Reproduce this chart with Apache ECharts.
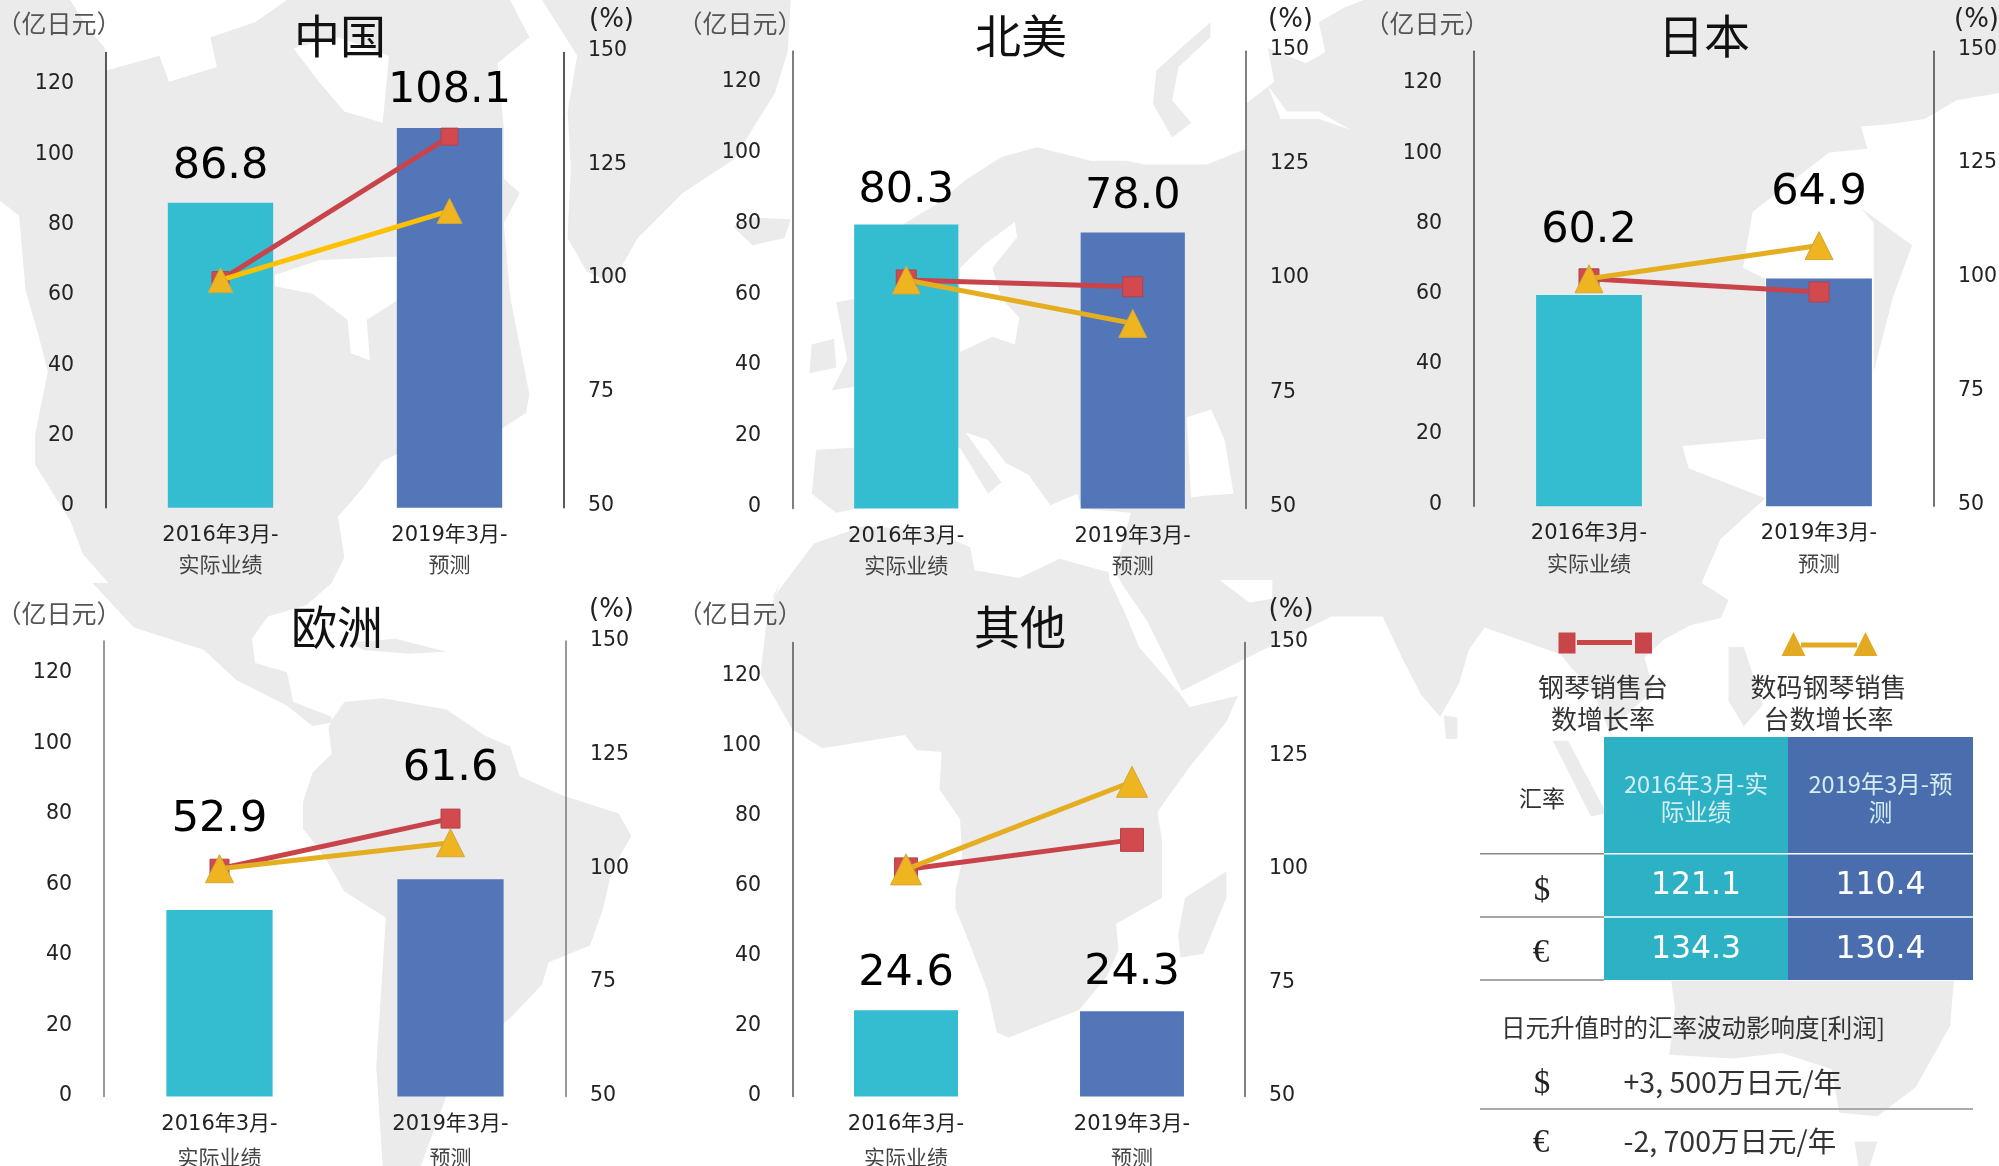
<!DOCTYPE html>
<html><head><meta charset="utf-8">
<style>html,body{margin:0;padding:0;background:#fff}#c{width:1999px;height:1166px}</style>
<script src="https://cdn.jsdelivr.net/npm/echarts@6/dist/echarts.min.js"></script>
</head><body><div id="c"></div>
<script>
// ---------- data ----------
const regionNames = ['中国','北美','日本','欧洲','其他'];
const periods = ['2016年3月-\n实际业绩','2019年3月-\n预测'];
const sales2016 = [86.8,80.3,60.2,52.9,24.6];
const sales2019 = [108.1,78.0,64.9,61.6,24.3];
const pianoRate2016 = [100,100,100,100,100];
const pianoRate2019 = [131.5,98.5,97.1,111,106.5];
const digitalRate2016 = [100,100,100,100,100];
const digitalRate2019 = [115.2,90.5,107.3,105.7,119.3];
const legendNames = ['钢琴销售台\n数增长率','数码钢琴销售\n台数增长率'];
const fxHeader = ['2016年3月-实\n际业绩','2019年3月-预\n测'];
const fxUSD = ['121.1','110.4'];
const fxEUR = ['134.3','130.4'];
const fxImpactTitle = '日元升值时的汇率波动影响度[利润]';
const fxImpact = ['+3, 500万日元/年','-2, 700万日元/年'];

// ---------- layout (px) ----------
const panels = [
 {l:106, r:564, t:52.4,b:507.8,max:129.6,d:[14,16],sq:17,tri:25,axis:'#222',lh:29,mg:13,tl:4,unit:[59,23],title:[340,36],pct:[589,20],yellow:'#FFC000'},
 {l:793, r:1246,t:51.3,b:508.6,max:129.2,d:[12,14],sq:20,tri:28,axis:'#555',lh:29,mg:13,tl:4,unit:[740,23],title:[1021,36],pct:[1268,20],yellow:'#E5AE20'},
 {l:1474,r:1934,t:51.3,b:506.3,max:129.6,d:[43,64],sq:20,tri:28,axis:'#444',lh:29,mg:13,tl:4,unit:[1427,23],title:[1704,36],pct:[1954,20],yellow:'#E5AE20'},
 {l:104, r:566, t:641, b:1096.4,max:129.2,d:[69,89],sq:19,tri:28,axis:'#777',lh:32.5,mg:12,tl:1,unit:[59,613.6],title:[337,626.7],pct:[589,610.5],yellow:'#E5AE20'},
 {l:793, r:1245,t:642.4,b:1096.4,max:129.5,d:[15,17],sq:23,tri:31,axis:'#555',lh:32.5,mg:12,tl:1,unit:[740,613.6],title:[1020,626.7],pct:[1268.6,610.5],yellow:'#E5AE20'}
];
const FONT_NUM = '"DejaVu Sans"';
const FONT_CJK = '"Noto Sans CJK SC"';
const MIX = '"DejaVu Sans","Noto Sans CJK SC"';

// ---------- background world map (decorative silhouette) ----------
const mk = (ox,oy,sx,sy)=>(a)=>{const o=[];for(let i=0;i<a.length;i+=2)o.push([ox+a[i]/sx,oy+a[i+1]/sy]);return o;};
const C7=mk(0,0,1.568,2.69),C9=mk(0,583,1.568,2.69),C8=mk(1000,0,1.568,2.69),C10=mk(1000,583,1.568,2.69),
      C3=mk(680,0,2.24,2.613),C6=mk(680,580,2.178,2.676),C2=mk(1400,600,2.618,2.77);
const land = [
 // North + Central America
 [...C7([0,0,110,0,140,80,165,130,165,190,250,150,265,220,340,180,330,100,400,60,450,0,800,0,830,100,780,170,790,345,790,480,815,520,790,600,800,800,830,1060,825,1110,790,1150,650,1200,600,1240,570,1310,530,1390,540,1500,520,1568]),
  ...C9([500,30,480,60,420,90,395,150,400,215,450,240,460,320,520,360,520,375,490,385,450,330,370,260,320,180,210,120,145,0]),
  ...C7([170,1568,130,1490,110,1400,55,1250,55,1170,75,1000,60,900,40,780,30,580,0,540])],
 // Greenland, Iceland
 C7([850,0,1240,0,1235,140,1215,250,1150,430,1070,520,1000,640,960,760,920,730,890,640,895,450,890,300,905,150]),
 C7([1150,610,1180,585,1240,590,1230,640,1180,660]),
 // Caribbean
 C9([550,160,620,150,700,185,640,190,570,180]),
 // South America
 C9([520,370,540,320,600,310,700,340,760,410,800,440,815,520,880,570,970,620,990,680,960,770,945,880,925,975,860,1020,850,1080,800,1170,770,1210,700,1380,660,1568,600,1568,590,1300,605,900,540,830,510,740,475,660,475,590,490,510,520,460,515,390]),
 // Ireland, Great Britain
 C3([295,900,345,885,350,960,290,975]), C3([350,790,395,780,395,1010,340,1020,375,940]),
 // Novaya Zemlya
 C8([330,60,290,120,245,190,240,280,270,370,300,330,270,270,280,180,330,100]),
 // Eurasia
 [...C3([295,1290,305,1175,390,1170,390,1060,400,1040,500,586,580,530,640,470,720,410,800,385,920,420,1000,420,1040,430,1180,430]),
  ...C8([386,400,385,280,430,220,420,130,480,170,510,140,500,60,540,20,570,0,1568,0,1568,250,1500,270,1450,320,1390,335,1350,340,1360,400,1300,410,1180,570,1165,720,1200,750,1200,1180,1070,1200,1080,1260,1140,1300,1200,1340,1130,1450,1100,1568]),
  ...C2([860,0,840,50,760,70,690,110,640,160,665,250,600,310,550,370,520,290,490,230,450,190,420,150]),
  ...C10([760,120,735,180,720,270,690,360,660,300,630,200,600,90,520,90,400,190,285,290,230,100,190,0]),
  ...C3([975,1490,1010,1340,900,1329,890,1290,830,1320,780,1240,730,1210,690,1150,640,1130,720,1260,690,1290,627,1170,560,1160,470,1250,430,1320,350,1340])],
 // Japan arc, Sri Lanka, Sumatra, Philippines
 C8([1350,560,1430,660,1400,800,1370,1000,1370,600]),
 C2([115,320,150,325,150,385,120,385]),
 C2([400,390,440,390,540,590,500,600]),
 C2([860,130,900,130,950,290,900,350,860,280]),
 // Africa, Madagascar
 [...C3([205,1568,300,1420,410,1375,560,1385,650,1430,660,1490,760,1510,850,1460,960,1495]),
  ...C6([935,0,970,90,1000,180,1085,300,1110,340,1215,310,1190,380,1110,500,1040,620,1050,700,1050,850,950,920,955,990,930,1060,870,1150,715,1225,690,1210,670,1100,630,970,600,880,600,830,615,750,610,640,565,560,570,460,515,455,490,415,310,450,245,400,175,250,190,100,220,0])],
 C6([1190,780,1190,850,1140,1000,1090,1010,1085,950,1100,850]),
 // Australia, Tasmania
 C2([710,1055,720,1130,705,1260,870,1270,1000,1255,1130,1300,1150,1420,1250,1430,1350,1350,1440,1180,1450,1055]),
 C2([1190,1500,1250,1500,1230,1568,1200,1568])
];
const water = [
 C7([431,740,500,700,622,690,622,810,575,860,580,970,550,950,545,860,490,790,431,770]), // Hudson Bay
 C7([460,130,530,100,610,150,600,330,540,300,500,220]),
 C3([627,920,627,700,680,640,750,580,755,620,700,700,720,780,760,830,750,900,700,880]), // Baltic
 C3([1145,1300,1135,1090,1190,1070,1220,1150,1240,1290,1180,1295]), // Caspian
 C6([1175,0,1290,0,1290,50,1240,60]), // Gulf
 C8([420,230,450,300,500,300,550,350,500,320,440,320]) // Ob
];

// ---------- graphic helpers ----------
const g = [];
land.forEach(p=>g.push({type:'polygon',z:-5,silent:true,shape:{points:p},style:{fill:'#EBEBEB'}}));
water.forEach(p=>g.push({type:'polygon',z:-4,silent:true,shape:{points:p},style:{fill:'#fff'}}));
const txt=(x,y,text,size,family,color,align)=>g.push({type:'text',z:20,silent:true,x,y,style:{text,fontSize:size,fontFamily:family,fill:color||'#222',align:align||'center',verticalAlign:'middle',lineHeight:size*1.25}});
const rect=(x,y,w,h,fill)=>g.push({type:'rect',z:10,silent:true,shape:{x,y,width:w,height:h},style:{fill}});
const hline=(x1,x2,y,color,w)=>g.push({type:'line',z:11,silent:true,shape:{x1,y1:y,x2,y2:y},style:{stroke:color,lineWidth:w}});

// panel texts
panels.forEach((p,i)=>{
 txt(p.unit[0],p.unit[1],'（亿日元）',25,FONT_CJK,'#555');
 txt(p.title[0],p.title[1],regionNames[i],46,FONT_CJK,'#111');
 txt(p.pct[0],p.pct[1],'(%)',26,FONT_NUM,'#222','left');
});

// legend
const RED='#C84549',GOLD='#E2AA22';
[1558.5,1635].forEach(x=>rect(x,632.5,17,21,RED));
rect(1577,640,55,5,RED);
[[1793.5],[1865.5]].forEach(([x])=>g.push({type:'polygon',z:10,silent:true,shape:{points:[[x,632],[x+12,656],[x-12,656]]},style:{fill:GOLD}}));
rect(1801,642.5,56,5,GOLD);
g.push({type:'text',z:20,silent:true,x:1603,y:703.5,style:{text:legendNames[0],fontSize:26,fontFamily:FONT_CJK,fill:'#333',align:'center',verticalAlign:'middle',lineHeight:32}});
g.push({type:'text',z:20,silent:true,x:1828.6,y:703.5,style:{text:legendNames[1],fontSize:26,fontFamily:FONT_CJK,fill:'#333',align:'center',verticalAlign:'middle',lineHeight:32}});

// fx table
const TEAL='#2DB1C5',BLUE='#4A6EAD';
rect(1604,737,184,243,TEAL); rect(1788,737,185,243,BLUE);
[853.8,917,980].forEach(y=>hline(1480,1604,y,'#888',1.5));
[853.8,917].forEach(y=>hline(1604,1973,y,'#fff',1.5));
const HC=[1696,1880.5];
fxHeader.forEach((t,i)=>g.push({type:'text',z:20,silent:true,x:HC[i],y:798,style:{text:t,fontSize:23.5,fontFamily:FONT_CJK,fill:'#D6EEF2',align:'center',verticalAlign:'middle',lineHeight:28}}));
txt(1542,798,'汇率',23,FONT_CJK,'#333');
txt(1542,891,'$',33,'"Liberation Serif"','#222');
txt(1541,953,'€',33,'"Liberation Serif"','#222');
fxUSD.forEach((t,i)=>txt(HC[i],885.5,t,31.5,FONT_NUM,'#fff'));
fxEUR.forEach((t,i)=>txt(HC[i],949.5,t,31.5,FONT_NUM,'#fff'));
txt(1501,1028,fxImpactTitle,24.5,FONT_CJK,'#333','left');
txt(1542,1084,'$',33,'"Liberation Serif"','#222');
txt(1623.5,1082,fxImpact[0],28.5,FONT_CJK,'#333','left');
hline(1480,1973,1109,'#AAA',2);
txt(1541,1143,'€',33,'"Liberation Serif"','#222');
txt(1623.5,1141,fxImpact[1],28.5,FONT_CJK,'#333','left');

// ---------- chart ----------
const grid=[],xAxis=[],yAxis=[],series=[];
panels.forEach((p,i)=>{
 grid.push({left:p.l,top:p.t,width:p.r-p.l,height:p.b-p.t,containLabel:false,outerBoundsMode:'none'});
 xAxis.push({type:'category',gridIndex:i,data:periods,axisLine:{show:false},axisTick:{show:false},
  axisLabel:{margin:p.mg,interval:0,formatter:v=>{const s=v.split('\n');return '{a|'+s[0]+'}\n{b|'+s[1]+'}';},
   rich:{a:{fontSize:21,fontFamily:MIX,color:'#222',lineHeight:p.lh},b:{fontSize:21,fontFamily:FONT_CJK,color:'#444',lineHeight:p.lh}}}});
 const ax={axisTick:{show:false},splitLine:{show:false},axisLine:{show:true,onZero:false,lineStyle:{color:p.axis,width:1.5}}};
 yAxis.push({...ax,type:'value',gridIndex:i,position:'left',min:0,max:p.max,interval:20,
  axisLabel:{showMaxLabel:false,margin:32,fontSize:20.5,fontFamily:FONT_NUM,color:'#222',verticalAlign:'bottom',lineHeight:p.tl}});
 yAxis.push({...ax,type:'value',gridIndex:i,position:'right',min:50,max:150,interval:25,
  axisLabel:{margin:24,fontSize:20.5,fontFamily:FONT_NUM,color:'#222',verticalAlign:'bottom',lineHeight:p.tl}});
 series.push({type:'bar',name:regionNames[i],xAxisIndex:i,yAxisIndex:i*2,barWidth:'46%',z:2,
  data:[
   {value:sales2016[i],itemStyle:{color:'#34BDD1'},label:{distance:p.d[0]}},
   {value:sales2019[i],itemStyle:{color:'#5276B8'},label:{distance:p.d[1]}}],
  label:{show:true,position:'top',fontSize:43,fontFamily:FONT_NUM,color:'#000',formatter:o=>o.value.toFixed(1)}});
 series.push({type:'line',name:'钢琴销售台数增长率',xAxisIndex:i,yAxisIndex:i*2+1,z:4,data:[pianoRate2016[i],pianoRate2019[i]],
  symbol:'rect',symbolSize:p.sq,showAllSymbol:true,lineStyle:{color:'#C9444A',width:5},itemStyle:{color:'#D24A4E',borderColor:'#B0444E',borderWidth:1,opacity:1}});
 series.push({type:'line',name:'数码钢琴销售台数增长率',xAxisIndex:i,yAxisIndex:i*2+1,z:5,data:[digitalRate2016[i],digitalRate2019[i]],
  symbol:'triangle',symbolSize:p.tri,showAllSymbol:true,lineStyle:{color:p.yellow,width:5},itemStyle:{color:'#EFB520',borderColor:'#D0A83A',borderWidth:1,opacity:1}});
});
const chart=echarts.init(document.getElementById('c'),null,{renderer:'canvas'});
chart.setOption({animation:false,backgroundColor:'#fff',tooltip:{show:false},grid,xAxis,yAxis,series,graphic:{elements:g}});
</script></body></html>
